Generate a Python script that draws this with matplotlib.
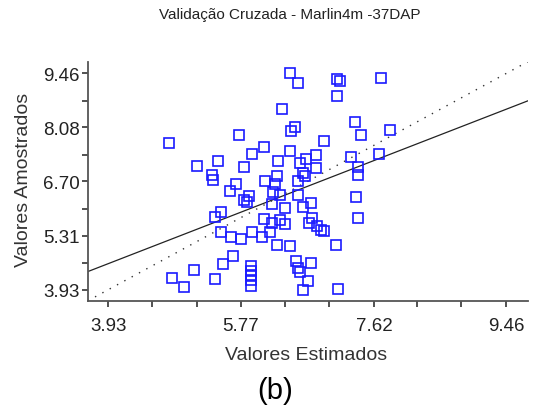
import matplotlib
matplotlib.use("Agg")
import matplotlib.pyplot as plt
import numpy as np

plt.rcParams['font.family'] = ['Liberation Sans', 'DejaVu Sans']

# estimated vs sampled values (cross validation)
estimados = [4.78, 5.75, 5.93, 5.46, 5.16, 5.82, 5.37, 5.39, 5.71, 6.46,
             6.56, 7.11, 7.15, 7.11, 6.34, 7.36, 6.53, 6.47, 7.44, 6.93,
             6.09, 6.46, 6.81, 6.29, 6.60, 6.68, 7.30, 6.81, 7.40, 7.40,
             6.64, 6.67, 6.28, 6.11, 6.57, 6.25, 7.72, 7.84, 7.69, 5.62,
             5.88, 5.81, 5.86, 5.49, 5.41, 5.50, 5.63, 5.77, 5.93, 5.66,
             5.53, 5.12, 4.81, 4.98, 5.42, 5.92, 5.92, 5.92, 5.92, 5.92,
             6.22, 6.31, 6.56, 6.21, 7.37, 6.74, 6.64, 6.39, 7.40, 6.10,
             6.31, 6.39, 6.21, 6.76, 6.72, 6.83, 6.93, 6.88, 6.06, 6.18,
             6.27, 6.46, 7.10, 6.54, 6.74, 6.56, 6.60, 6.70, 6.63, 7.12]
amostrados = [7.68, 7.88, 7.40, 7.22, 7.09, 7.07, 6.86, 6.73, 6.63, 9.47,
              9.21, 9.31, 9.26, 8.88, 8.55, 8.22, 8.09, 7.99, 7.88, 7.73,
              7.58, 7.47, 7.37, 7.22, 7.17, 7.27, 7.32, 7.04, 7.07, 6.86,
              6.91, 6.84, 6.84, 6.71, 6.71, 6.63, 9.34, 8.01, 7.40, 6.45,
              6.32, 6.22, 6.17, 5.92, 5.79, 5.40, 5.28, 5.23, 5.40, 4.79,
              4.59, 4.43, 4.23, 4.00, 4.20, 4.54, 4.41, 4.31, 4.18, 4.03,
              6.43, 6.35, 6.35, 6.12, 6.30, 6.15, 6.04, 6.02, 5.76, 5.74,
              5.71, 5.61, 5.63, 5.76, 5.63, 5.56, 5.43, 5.46, 5.28, 5.40,
              5.07, 5.05, 5.07, 4.66, 4.61, 4.49, 4.38, 4.15, 3.92, 3.95]

# regression line
reg_intercept = 1.79
reg_slope = 0.714

x_ticks = [3.93, 5.77, 7.62, 9.46]
y_ticks = [3.93, 5.31, 6.70, 8.08, 9.46]
x_lim = (3.645, 9.76)
y_lim = (3.65, 9.75)

fig = plt.figure(figsize=(5.36, 4.14), dpi=100)
ax = fig.add_axes([0.1636, 0.2713, 0.8214, 0.5765])

ax.plot(estimados, amostrados, 's', ls='none', ms=7.6, mfc='none',
        mec='#1a1aff', mew=1.2, zorder=3)

xx = np.array(x_lim)
ax.plot(xx, reg_intercept + reg_slope * xx, color='#222222', lw=0.9, zorder=2)
ax.plot(xx, xx, color='#333333', lw=1.0, ls=(0, (1, 5)), zorder=2)

ax.set_xlim(*x_lim)
ax.set_ylim(*y_lim)
ax.set_xticks(x_ticks)
ax.set_xticklabels([f'{v:.2f}' for v in x_ticks])
ax.set_yticks(y_ticks)
ax.set_yticklabels([f'{v:.2f}' for v in y_ticks])

# minor ticks: two between x majors, one between y majors
dx = (x_ticks[1] - x_ticks[0]) / 3
ax.set_xticks([x_ticks[0] + dx * k for k in range(-1, 11) if k % 3 != 0
               and x_lim[0] < x_ticks[0] + dx * k < x_lim[1]], minor=True)
dy = (y_ticks[1] - y_ticks[0]) / 2
ax.set_yticks([y_ticks[0] + dy * k for k in range(-1, 10) if k % 2 != 0
               and y_lim[0] < y_ticks[0] + dy * k < y_lim[1]], minor=True)

for s in ['top', 'right']:
    ax.spines[s].set_visible(False)
for s in ['left', 'bottom']:
    ax.spines[s].set_color('#555555')
    ax.spines[s].set_linewidth(1.3)

ax.tick_params(which='both', direction='out', length=4, width=1.2,
               color='#333333', labelsize=13.5, labelcolor='#222222')
ax.tick_params(axis='x', pad=8)
ax.tick_params(axis='y', pad=1.5)

fig.text(0.541, 0.963, 'Validação Cruzada - Marlin4m -37DAP', ha='center',
         va='center', fontsize=11, color='#222222')
fig.text(0.571, 0.142, 'Valores Estimados', ha='center', va='center',
         fontsize=14, color='#333333')
fig.text(0.043, 0.565, 'Valores Amostrados', ha='center', va='center',
         rotation=90, fontsize=14, color='#333333')
fig.text(0.513, 0.055, '(b)', ha='center', va='center', fontsize=21,
         color='black')

fig.savefig('out.png', dpi=100)
